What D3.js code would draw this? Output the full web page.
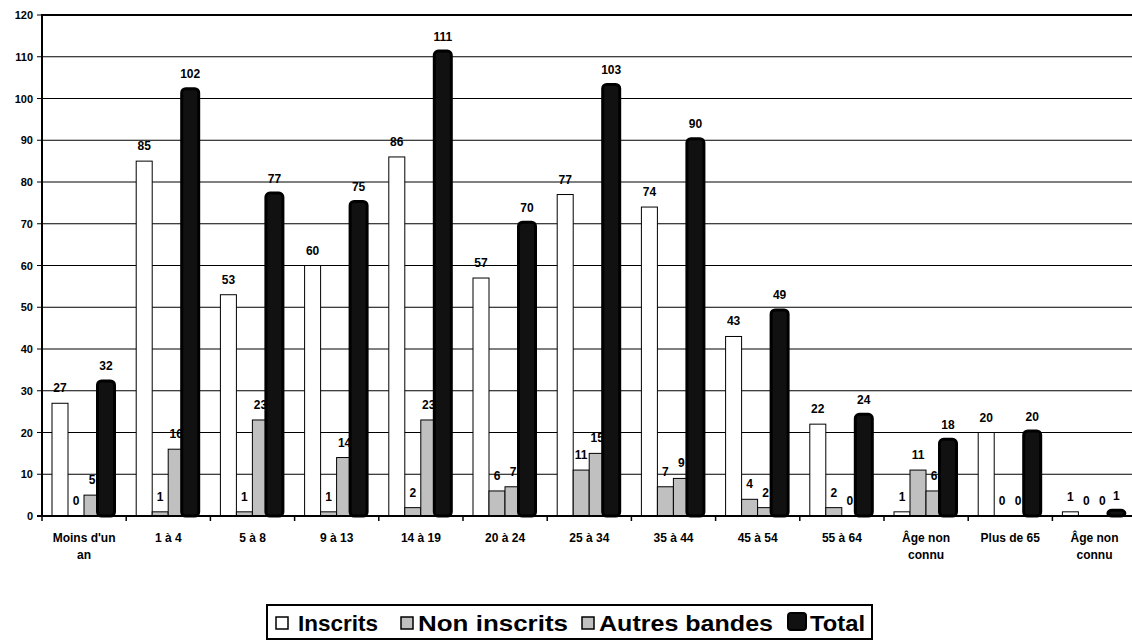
<!DOCTYPE html>
<html><head><meta charset="utf-8">
<script src="https://cdn.jsdelivr.net/npm/d3@7"></script>
<style>
html,body{margin:0;padding:0;background:#fff;}
svg{display:block;font-family:"Liberation Sans",Arial,sans-serif;font-weight:bold;}
</style></head>
<body>
<svg id="chart" width="1132" height="640"></svg>
<script>
const categories = ["Moins d'un|an","1 à 4","5 à 8","9 à 13","14 à 19","20 à 24","25 à 34","35 à 44","45 à 54","55 à 64","Âge non|connu","Plus de 65","Âge non|connu"];
const seriesNames = ["Inscrits","Non inscrits","Autres bandes","Total"];
const inscrits     = [27,85,53,60,86,57,77,74,43,22,1,20,1];
const nonInscrits  = [0,1,1,1,2,6,11,7,4,2,11,0,0];
const autresBandes = [5,16,23,14,23,7,15,9,2,0,6,0,0];
const total        = [32,102,77,75,111,70,103,90,49,24,18,20,1];
const yTicks = [0,10,20,30,40,50,60,70,80,90,100,110,120];
const seriesColors = ["#ffffff","#c0c0c0","#c0c0c0","#111111"];

const svg = d3.select("#chart");
const pLeft = 42, pTop = 15, pBottom = 516, catW = 84.2;
const catIdx = categories.map((d,i)=>i);
const x = d3.scaleBand().domain(catIdx).range([pLeft, pLeft + catW*categories.length]).padding(0);
const y = d3.scaleLinear().domain([0,120]).range([pBottom, pTop]);
const xs = d3.scaleBand().domain(seriesNames).range([10, 74]).padding(0);
const bw = xs.bandwidth();
const values = [inscrits, nonInscrits, autresBandes, total];

// gridlines
svg.append("g").selectAll("line").data(yTicks.filter(t=>t>0)).join("line")
  .attr("x1", pLeft).attr("x2", 1132)
  .attr("y1", d=>y(d)).attr("y2", d=>y(d))
  .attr("stroke","#000").attr("stroke-width", d=>d===120?2:1);

// first three series bars
for (let s=0; s<3; s++){
  svg.append("g").selectAll("rect").data(catIdx).join("rect")
    .attr("x", i=>x(i)+xs(seriesNames[s]))
    .attr("y", i=>y(values[s][i]))
    .attr("width", bw)
    .attr("height", i=>y(0)-y(values[s][i]))
    .attr("fill", seriesColors[s])
    .attr("stroke", "#000").attr("stroke-width", 1)
    .attr("display", i=>values[s][i]===0?"none":null);
}
// labels for first three series
for (let s=0; s<3; s++){
  svg.append("g").selectAll("text").data(catIdx).join("text")
    .attr("x", i=>x(i)+xs(seriesNames[s])+bw/2)
    .attr("y", i=>y(values[s][i])-11)
    .attr("text-anchor","middle").attr("font-size",12)
    .text(i=>values[s][i]);
}
// total bars
svg.append("g").selectAll("rect").data(catIdx).join("rect")
  .attr("x", i=>x(i)+xs("Total")-2.5)
  .attr("y", i=>y(total[i])-1.5)
  .attr("width", bw+1)
  .attr("height", i=>y(0)-y(total[i])+1.5)
  .attr("rx",4).attr("ry",4)
  .attr("fill","#111").attr("stroke","#000").attr("stroke-width",3);
svg.append("g").selectAll("text").data(catIdx).join("text")
  .attr("x", i=>x(i)+xs("Total")+bw/2-2)
  .attr("y", i=>y(total[i])-12)
  .attr("text-anchor","middle").attr("font-size",12)
  .text(i=>total[i]);

// y axis
const yAxis = svg.append("g");
yAxis.append("line").attr("x1",pLeft).attr("x2",pLeft).attr("y1",pTop-1).attr("y2",pBottom+1).attr("stroke","#000").attr("stroke-width",2);
yAxis.selectAll("line.t").data(yTicks).join("line").attr("class","t")
  .attr("x1",pLeft-5).attr("x2",pLeft).attr("y1",d=>y(d)).attr("y2",d=>y(d)).attr("stroke","#000").attr("stroke-width",1);
yAxis.selectAll("text").data(yTicks).join("text")
  .attr("x",33).attr("y",d=>y(d)+4).attr("text-anchor","end").attr("font-size",11)
  .text(d=>d);

// x axis
const xAxis = svg.append("g");
xAxis.append("line").attr("x1",pLeft-5).attr("x2",1132).attr("y1",pBottom).attr("y2",pBottom).attr("stroke","#000").attr("stroke-width",2);
xAxis.selectAll("line.t").data(d3.range(categories.length+1)).join("line").attr("class","t")
  .attr("x1",i=>pLeft+catW*i).attr("x2",i=>pLeft+catW*i).attr("y1",pBottom).attr("y2",pBottom+5)
  .attr("stroke","#000").attr("stroke-width",1.5);
xAxis.selectAll("text").data(catIdx).join("text")
  .attr("x", i=>x(i)+x.bandwidth()/2).attr("y",542)
  .attr("text-anchor","middle").attr("font-size",12)
  .each(function(i){
    const parts = categories[i].split("|");
    const t = d3.select(this);
    parts.forEach((p,k)=>{
      t.append("tspan").attr("x", x(i)+x.bandwidth()/2).attr("dy", k===0?0:17).text(p);
    });
  });

// legend
const lg = svg.append("g");
lg.append("rect").attr("x",267).attr("y",605).attr("width",605).attr("height",34)
  .attr("fill","#fff").attr("stroke","#000").attr("stroke-width",2);
const legSq = [276,401,582,787];
const legTx = [298,418,599,810];
const legEnd = [378,568,773,865];
seriesNames.forEach((n,k)=>{
  if (k<3){
    lg.append("rect").attr("x",legSq[k]).attr("y",617).attr("width",12).attr("height",12)
      .attr("fill",seriesColors[k]).attr("stroke","#000").attr("stroke-width",1.5);
  } else {
    lg.append("rect").attr("x",legSq[k]+1).attr("y",613).attr("width",18).attr("height",17)
      .attr("rx",3).attr("fill","#111").attr("stroke","#000").attr("stroke-width",2);
  }
  lg.append("text").attr("x",legTx[k]).attr("y",631).attr("font-size",22)
    .attr("textLength",legEnd[k]-legTx[k]).attr("lengthAdjust","spacingAndGlyphs")
    .text(n);
});
</script>
</body></html>
